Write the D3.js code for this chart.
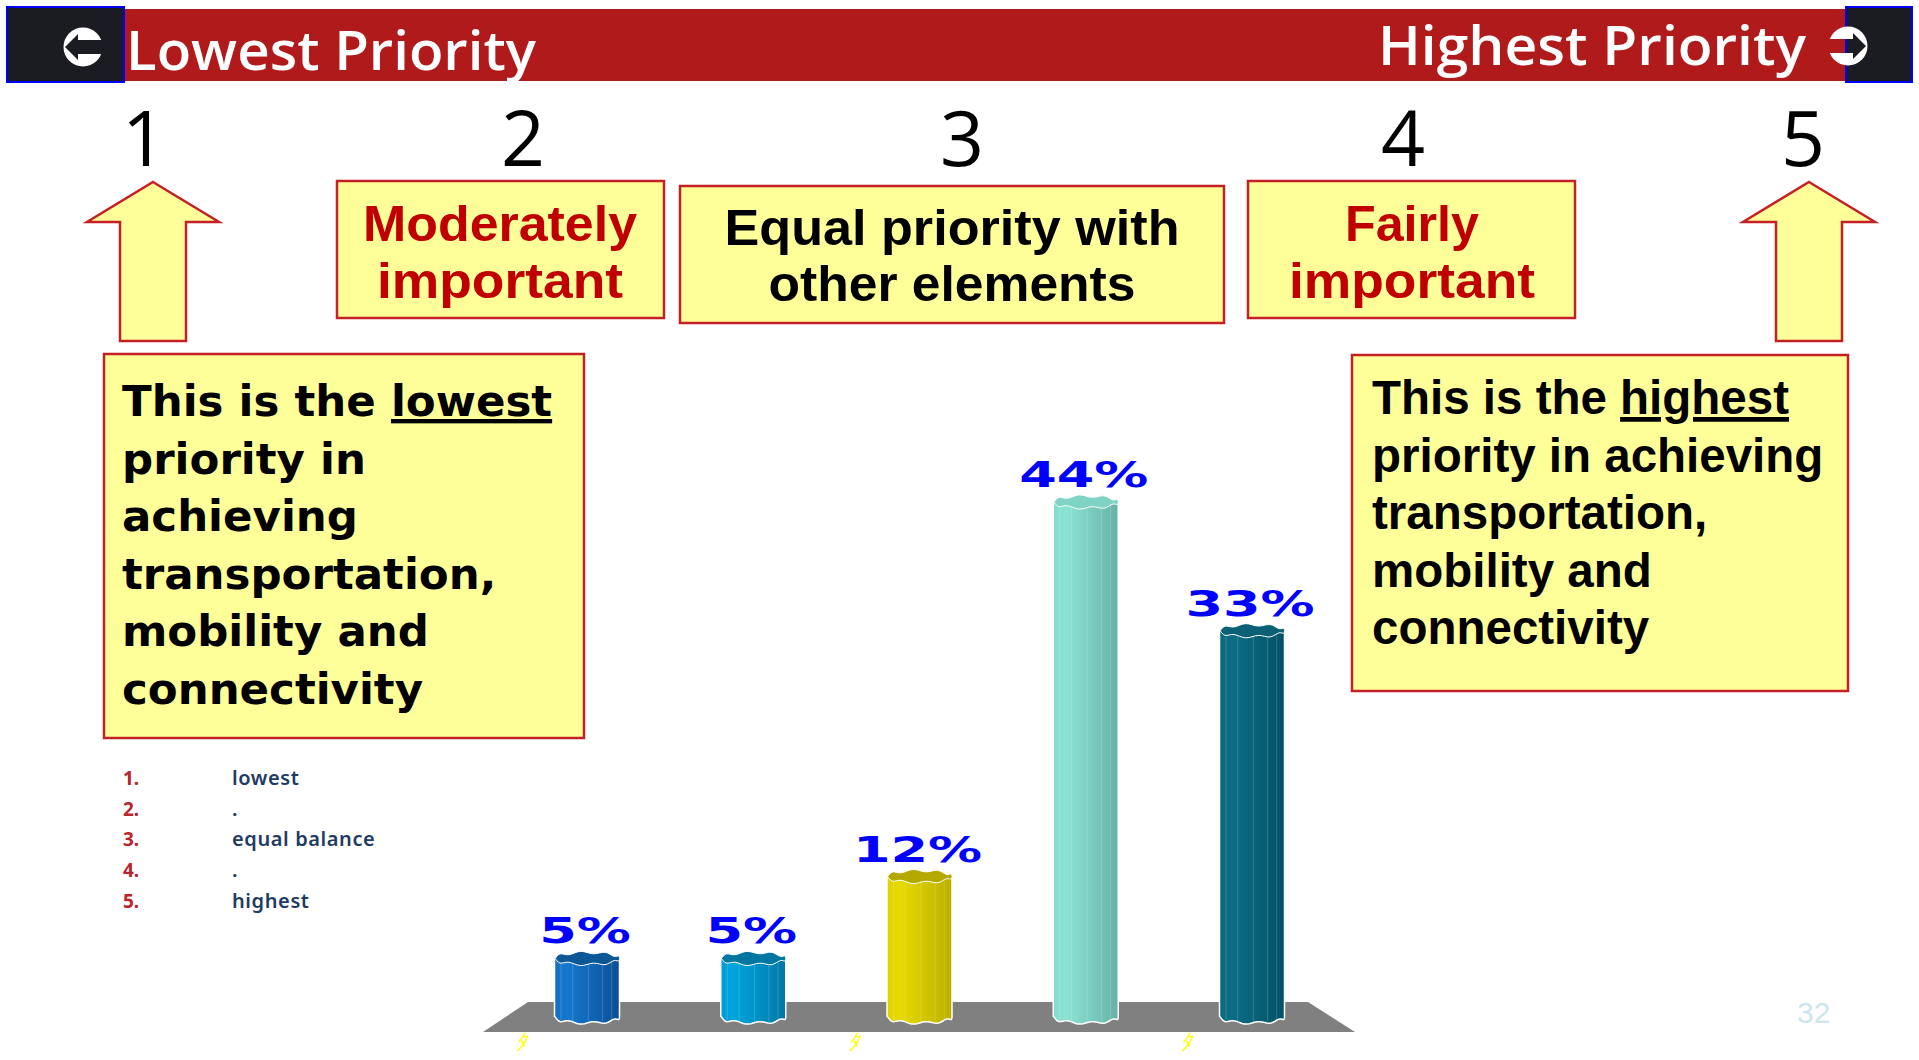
<!DOCTYPE html>
<html>
<head>
<meta charset="utf-8">
<script src="https://cdn.jsdelivr.net/npm/d3@7"></script>
<style>
  html, body { margin: 0; padding: 0; background: #fff; }
  svg { display: block; }
</style>
</head>
<body>
<div id="chart"></div>
<script>
// ---- data ----
const categories = ["1", "2", "3", "4", "5"];
const shares = [5, 5, 12, 44, 33];
const axisGlyphs = ["ﾀ", "", "ﾀ", "", "ﾀ"];
const scaleNumbers = ["1", "2", "3", "4", "5"];
const headerLabels = ["Lowest Priority", "Highest Priority"];
const levelTitles = [["Moderately", "important"], ["Equal priority with", "other elements"], ["Fairly", "important"]];
const lowestNote = ["This is the |lowest", "priority in", "achieving", "transportation,", "mobility and", "connectivity"];
const highestNote = ["This is the |highest", "priority in achieving", "transportation,", "mobility and", "connectivity"];
const listNumbers = ["1.", "2.", "3.", "4.", "5."];
const listLabels = ["lowest", ".", "equal balance", ".", "highest"];
const pageNumber = "32";

const W = 1919, H = 1060;
const boxFill = "#ffff99", boxLine = "#c42127";

const svg = d3.select("#chart").append("svg")
    .attr("width", W)
    .attr("height", H);
const defs = svg.append("defs");

// ---- header band ----
svg.append("rect").attr("x", 7).attr("y", 9).attr("width", 1905).attr("height", 72).attr("fill", "#b11a1b");
[[7, 117], [1846, 66]].forEach(([x, w]) => {
    svg.append("rect").attr("x", x).attr("y", 7).attr("width", w).attr("height", 75)
        .attr("fill", "#1b1c22").attr("stroke", "#0000ff").attr("stroke-width", 2);
});

function roundArrow(id, cx, cy, dir) {
    const m = defs.append("mask").attr("id", id).attr("maskUnits", "userSpaceOnUse")
        .attr("x", 0).attr("y", 0).attr("width", W).attr("height", H);
    m.append("rect").attr("width", W).attr("height", H).attr("fill", "#fff");
    const pts = [[18, 0], [5, -13], [5, -7], [-26, -7], [-26, 7], [5, 7], [5, 13]]
        .map(p => [cx + p[0] * dir, cy + p[1]]);
    m.append("polygon").attr("points", pts.join(" ")).attr("fill", "#000");
    svg.append("circle").attr("cx", cx).attr("cy", cy).attr("r", 19.5)
        .attr("fill", "#fff").attr("mask", "url(#" + id + ")");
}
roundArrow("arrowL", 83, 47, -1);
roundArrow("arrowR", 1848, 46, 1);

svg.append("text").attr("x", 126).attr("y", 70)
    .attr("font-family", "Open Sans").attr("font-size", 54).attr("font-weight", 600)
    .attr("fill", "#fff").attr("textLength", 410).attr("lengthAdjust", "spacingAndGlyphs")
    .text(headerLabels[0]);
svg.append("text").attr("x", 1378).attr("y", 65)
    .attr("font-family", "Open Sans").attr("font-size", 54).attr("font-weight", 600)
    .attr("fill", "#fff").attr("textLength", 428).attr("lengthAdjust", "spacingAndGlyphs")
    .text(headerLabels[1]);

// ---- scale numbers 1..5 ----
const numX = [144, 523, 962, 1403, 1803];
svg.append("g").selectAll("text").data(scaleNumbers).join("text")
    .attr("x", (d, i) => numX[i]).attr("y", 166)
    .attr("text-anchor", "middle")
    .attr("font-family", "Open Sans").attr("font-size", 77)
    .attr("fill", "#000")
    .text(d => d);

// ---- block arrows ----
function blockArrow(cx) {
    const tip = 182, head = 222, bottom = 341, hh = 66, hs = 33;
    const pts = [[cx, tip], [cx + hh, head], [cx + hs, head], [cx + hs, bottom],
                 [cx - hs, bottom], [cx - hs, head], [cx - hh, head]];
    svg.append("polygon").attr("points", pts.join(" "))
        .attr("fill", boxFill).attr("stroke", boxLine).attr("stroke-width", 2.5);
}
blockArrow(153);
blockArrow(1809);

// ---- level title boxes ----
const titleBoxes = [
    {x: 337, y: 181, w: 327, h: 137, cx: 500, base: [241, 298], fill: "#c00000", len: [274, 246]},
    {x: 680, y: 186, w: 544, h: 137, cx: 952, base: [245, 301], fill: "#000", len: [455, 367]},
    {x: 1248, y: 181, w: 327, h: 137, cx: 1412, base: [241, 298], fill: "#c00000", len: [134, 246]}
];
titleBoxes.forEach((b, i) => {
    svg.append("rect").attr("x", b.x).attr("y", b.y).attr("width", b.w).attr("height", b.h)
        .attr("fill", boxFill).attr("stroke", boxLine).attr("stroke-width", 2.5);
    levelTitles[i].forEach((line, j) => {
        svg.append("text").attr("x", b.cx).attr("y", b.base[j])
            .attr("text-anchor", "middle")
            .attr("font-family", "Liberation Sans").attr("font-weight", 700).attr("font-size", 50)
            .attr("fill", b.fill)
            .attr("textLength", b.len[j]).attr("lengthAdjust", "spacingAndGlyphs")
            .text(line);
    });
});

// ---- note boxes ----
function noteBox(lines, box, font, size) {
    svg.append("rect").attr("x", box.x).attr("y", box.y).attr("width", box.w).attr("height", box.h)
        .attr("fill", boxFill).attr("stroke", boxLine).attr("stroke-width", 2.5);
    lines.forEach((line, i) => {
        const t = svg.append("text").attr("x", box.tx).attr("y", box.ty + i * 57.6)
            .attr("font-family", font).attr("font-weight", 700).attr("font-size", size)
            .attr("fill", "#000");
        const parts = line.split("|");
        t.append("tspan").text(parts[0]);
        if (parts[1]) t.append("tspan").style("text-decoration", "underline").text(parts[1]);
    });
}
noteBox(lowestNote, {x: 104, y: 354, w: 480, h: 384, tx: 122, ty: 416}, "DejaVu Sans", 43.5);
noteBox(highestNote, {x: 1352, y: 355, w: 496, h: 336, tx: 1372, ty: 414}, "Liberation Sans", 47.5);

// ---- numbered list ----
const list = svg.append("g");
list.selectAll(".num").data(listNumbers).join("text")
    .attr("class", "num")
    .attr("x", 123).attr("y", (d, i) => 785 + i * 30.7)
    .attr("font-family", "Noto Sans").attr("font-weight", 700).attr("font-size", 19)
    .attr("fill", "#b8252b")
    .text(d => d);
list.selectAll(".lab").data(listLabels).join("text")
    .attr("class", "lab")
    .attr("x", 232).attr("y", (d, i) => 785 + i * 30.7)
    .attr("font-family", "Noto Sans").attr("font-weight", 600).attr("font-size", 20)
    .attr("letter-spacing", 0.6)
    .attr("fill", "#1f3b63")
    .text(d => d);

// ---- page number ----
svg.append("text").attr("x", 1797).attr("y", 1023)
    .attr("font-family", "Liberation Sans").attr("font-size", 30)
    .attr("fill", "#cde6ee").text(pageNumber);

// ---- cylinder bar chart ----
const x = d3.scalePoint().domain(categories).range([587, 1252]);
const y = d3.scaleLinear().domain([0, 44]).range([1017, 502]);
const barW = 65, rx = barW / 2, ry = 6;

const palette = d3.scaleOrdinal().domain(categories).range([
    {l: "#1577cd", d: "#0c4e94", t: "#0e5796"},
    {l: "#00a4dd", d: "#0077a4", t: "#0076a0"},
    {l: "#e6da00", d: "#bbae00", t: "#b5a900"},
    {l: "#8ae3d3", d: "#67b1a7", t: "#7fd3c4"},
    {l: "#0b6e84", d: "#035066", t: "#0a6075"}
]);

// floor
const fl = x.range();
svg.append("polygon")
    .attr("points", [[fl[0] - 59, 1002], [fl[1] + 56, 1002], [fl[1] + 103, 1032], [fl[0] - 104, 1032]].join(" "))
    .attr("fill", "#808080");

categories.forEach(c => {
    const p = palette(c);
    const g = defs.append("linearGradient").attr("id", "grad" + c)
        .attr("x1", 0).attr("x2", 1).attr("y1", 0).attr("y2", 0);
    const mix = d3.interpolateRgb(p.l, p.d);
    [[0, mix(0.15)], [0.2, p.l], [0.45, mix(0.3)], [0.7, mix(0.6)], [1, p.d]].forEach(s => {
        g.append("stop").attr("offset", s[0]).attr("stop-color", s[1]);
    });
});

const wave = (cx, cy, from, to, n) => d3.range(n + 1).map(k => {
    const t = from + (to - from) * k / n;
    return [cx + rx * Math.cos(t), cy + ry * Math.sin(t) + 1.2 * Math.sin(8 * t)];
});

const bars = svg.append("g").selectAll("g").data(categories).join("g");

bars.append("path")
    .attr("d", (c, i) => {
        const cx = x(c), yt = y(shares[i]), yb = y(0);
        const pts = [[cx - rx, yt]].concat(wave(cx, yb, Math.PI, 0, 40), [[cx + rx, yt]]);
        return d3.line()(pts) + "Z";
    })
    .attr("fill", c => "url(#grad" + c + ")")
    .attr("stroke", "#fff").attr("stroke-width", 1.5);

// flutes
bars.each(function (c, i) {
    const cx = x(c), yt = y(shares[i]), yb = y(0);
    [0.1, 0.28, 0.52, 0.74, 0.88].forEach(f => {
        d3.select(this).append("line")
            .attr("x1", cx - rx + f * barW).attr("x2", cx - rx + f * barW)
            .attr("y1", yt + 2).attr("y2", yb + ry * Math.sin(Math.acos(2 * f - 1)) - 1)
            .attr("stroke", "#fff").attr("stroke-opacity", 0.18).attr("stroke-width", 1);
    });
});

bars.append("path")
    .attr("d", (c, i) => d3.line().curve(d3.curveLinearClosed)(wave(x(c), y(shares[i]), 0, 2 * Math.PI, 64)))
    .attr("fill", c => palette(c).t)
    .attr("stroke", "#fff").attr("stroke-width", 1);

// value labels
svg.append("g").selectAll("text").data(categories).join("text")
    .attr("transform", (c, i) => `translate(${x(c) - 2},${y(shares[i]) - 15}) scale(1.5,1)`)
    .attr("text-anchor", "middle")
    .attr("font-family", "DejaVu Sans").attr("font-weight", 700).attr("font-size", 36)
    .attr("fill", "#0000ff")
    .text((c, i) => shares[i] + "%");

// category glyphs under the floor
svg.append("g").selectAll("text").data(categories).join("text")
    .attr("x", c => x(c) - 66).attr("y", 1050)
    .attr("text-anchor", "middle")
    .attr("font-family", "Noto Sans CJK JP").attr("font-size", 22)
    .attr("font-style", "italic")
    .attr("fill", "#ffff00")
    .text((c, i) => axisGlyphs[i]);
</script>
</body>
</html>
